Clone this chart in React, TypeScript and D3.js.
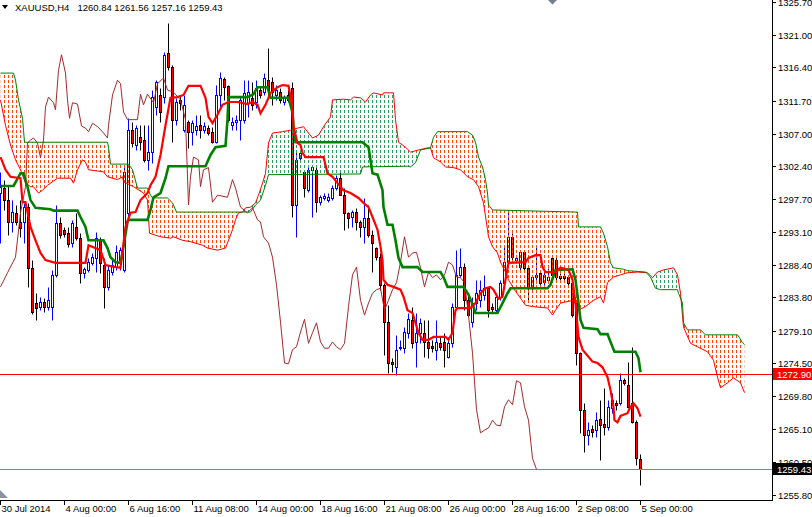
import React from "react";
import * as d3 from "d3";

const W = 812;
const H = 517;
const PLOT_R = 772;
const PLOT_B = 500;
const FONT = "'Liberation Sans', Arial, sans-serif";

const symbolTitle = "XAUUSD,H4";
const lastQuote = ["1260.84", "1261.56", "1257.16", "1259.43"];

const priceTicks = [
  1325.7, 1321.0, 1316.4, 1311.7, 1307.0, 1302.4, 1297.7, 1293.1, 1288.4, 1283.8,
  1279.1, 1274.5, 1269.8, 1265.1, 1260.5, 1255.8,
];

const timeLabels = [
  "30 Jul 2014", "4 Aug 00:00", "6 Aug 16:00", "11 Aug 08:00", "14 Aug 00:00", "18 Aug 16:00",
  "21 Aug 08:00", "26 Aug 00:00", "28 Aug 16:00", "2 Sep 08:00", "5 Sep 00:00",
];
const timeLabelBars = [0, 16, 32, 48, 64, 80, 96, 112, 128, 144, 160];

const alertLevel = 1272.9;
const bidLevel = 1259.43;

// [open, high, low, close] per H4 bar
const ohlc: number[][] = [
  [1298.6, 1301.6, 1291.5, 1299.5], [1299.3, 1300.5, 1296.2, 1297.6], [1297.6, 1299.7, 1292.7, 1294.5],
  [1294.5, 1297.6, 1293.1, 1295.9], [1295.8, 1296.9, 1294.1, 1294.5], [1294.5, 1297.6, 1292.4, 1293.6],
  [1294.5, 1297.2, 1291.5, 1296.6], [1296.6, 1297.2, 1285.3, 1288.0], [1288.0, 1289.1, 1281.5, 1281.7],
  [1283.0, 1284.4, 1280.6, 1282.3], [1282.5, 1283.9, 1282.0, 1283.2], [1283.2, 1283.7, 1281.7, 1282.5],
  [1282.5, 1285.3, 1282.0, 1283.4], [1282.5, 1287.7, 1280.6, 1287.0], [1287.0, 1296.9, 1286.7, 1294.4],
  [1294.4, 1295.2, 1292.2, 1292.7], [1293.4, 1293.8, 1292.4, 1292.8], [1292.9, 1293.8, 1291.0, 1291.4],
  [1291.5, 1294.8, 1291.0, 1294.4], [1293.8, 1295.8, 1291.9, 1292.2], [1292.2, 1292.9, 1285.9, 1287.3],
  [1287.3, 1288.1, 1286.6, 1287.8], [1287.7, 1289.4, 1287.4, 1288.8], [1288.7, 1290.1, 1288.4, 1289.5],
  [1289.4, 1293.1, 1287.4, 1292.2], [1291.9, 1292.4, 1287.3, 1288.7], [1288.4, 1289.4, 1282.3, 1285.3],
  [1285.3, 1288.4, 1284.9, 1287.7], [1287.4, 1289.1, 1287.0, 1288.4], [1288.1, 1291.2, 1287.7, 1290.2],
  [1289.1, 1291.0, 1287.7, 1290.5], [1287.7, 1302.6, 1287.4, 1301.6], [1295.8, 1309.2, 1294.8, 1307.5],
  [1307.5, 1308.7, 1305.1, 1305.7], [1305.4, 1308.2, 1304.7, 1307.8], [1306.5, 1308.2, 1304.7, 1305.8],
  [1306.1, 1308.2, 1303.0, 1303.3], [1303.3, 1308.2, 1301.9, 1304.4], [1304.4, 1313.2, 1302.9, 1312.2],
  [1310.8, 1314.6, 1309.7, 1314.3], [1312.5, 1313.5, 1308.7, 1310.1], [1312.2, 1318.6, 1311.4, 1318.2],
  [1318.5, 1322.7, 1316.0, 1316.5], [1316.5, 1316.8, 1305.8, 1309.0], [1309.0, 1312.1, 1308.2, 1311.5],
  [1311.8, 1312.5, 1310.4, 1311.4], [1307.5, 1312.5, 1307.3, 1311.1], [1308.7, 1309.0, 1305.0, 1307.3],
  [1307.3, 1309.0, 1305.4, 1308.5], [1307.5, 1309.7, 1306.8, 1308.1], [1308.2, 1309.7, 1306.4, 1307.5],
  [1307.5, 1308.7, 1307.1, 1308.1], [1307.8, 1308.2, 1306.8, 1307.1], [1307.3, 1308.0, 1305.7, 1305.8],
  [1305.8, 1313.9, 1305.7, 1312.5], [1312.5, 1315.8, 1310.8, 1314.9], [1314.8, 1315.1, 1311.8, 1313.6],
  [1313.8, 1313.9, 1308.7, 1309.0], [1308.2, 1309.4, 1307.5, 1308.7], [1308.7, 1309.7, 1307.5, 1309.0],
  [1309.0, 1312.2, 1306.1, 1311.8], [1309.0, 1314.6, 1308.5, 1312.8], [1311.4, 1314.6, 1309.4, 1312.9],
  [1312.1, 1314.3, 1310.4, 1311.1], [1311.5, 1314.6, 1310.7, 1313.5], [1313.2, 1313.6, 1312.1, 1312.5],
  [1312.9, 1315.6, 1312.5, 1314.9], [1314.6, 1319.2, 1312.2, 1313.2], [1314.3, 1315.1, 1311.1, 1312.9],
  [1312.5, 1313.9, 1311.8, 1313.2], [1312.9, 1313.5, 1311.4, 1311.8], [1311.5, 1312.5, 1311.1, 1312.1],
  [1312.5, 1313.2, 1311.5, 1311.8], [1313.5, 1314.3, 1295.2, 1296.9], [1296.9, 1304.4, 1292.4, 1303.3],
  [1303.6, 1304.7, 1303.3, 1304.3], [1301.6, 1301.9, 1298.0, 1299.3], [1299.0, 1302.6, 1298.8, 1301.9],
  [1301.9, 1302.6, 1295.2, 1302.3], [1301.9, 1302.3, 1295.9, 1297.3], [1297.3, 1298.3, 1296.9, 1298.0],
  [1297.9, 1298.6, 1297.6, 1298.2], [1297.6, 1298.6, 1297.3, 1298.0], [1297.9, 1299.7, 1297.6, 1299.3],
  [1299.3, 1301.2, 1299.0, 1300.7], [1300.7, 1301.9, 1298.3, 1298.3], [1298.3, 1299.3, 1293.4, 1295.8],
  [1295.8, 1295.9, 1293.6, 1295.1], [1295.2, 1296.2, 1293.8, 1295.9], [1295.9, 1296.5, 1293.4, 1294.5],
  [1294.5, 1294.8, 1292.4, 1293.8], [1293.8, 1297.9, 1291.5, 1295.1], [1295.1, 1296.9, 1292.4, 1292.7],
  [1292.7, 1293.4, 1287.4, 1291.5], [1290.8, 1291.0, 1289.1, 1289.5], [1289.5, 1290.1, 1284.9, 1285.6],
  [1285.6, 1285.9, 1275.6, 1280.3], [1280.3, 1282.7, 1273.1, 1274.5], [1274.7, 1275.2, 1273.2, 1274.4],
  [1273.9, 1278.5, 1272.8, 1276.4], [1276.6, 1277.8, 1276.4, 1276.8], [1276.6, 1279.6, 1275.9, 1278.9],
  [1278.8, 1281.6, 1278.1, 1280.7], [1280.6, 1282.5, 1276.6, 1277.3], [1277.5, 1281.6, 1273.9, 1278.8],
  [1278.8, 1280.9, 1277.3, 1280.2], [1278.8, 1280.6, 1275.4, 1277.5], [1277.5, 1280.6, 1275.2, 1276.6],
  [1276.9, 1277.8, 1276.1, 1276.6], [1276.4, 1280.6, 1274.9, 1277.5], [1277.3, 1278.2, 1276.4, 1276.8],
  [1277.5, 1278.8, 1273.9, 1276.4], [1275.4, 1278.2, 1275.2, 1277.3], [1277.3, 1283.0, 1276.8, 1282.5],
  [1282.5, 1290.5, 1282.0, 1287.0], [1287.0, 1290.8, 1286.7, 1288.1], [1288.1, 1288.7, 1282.0, 1283.4],
  [1283.4, 1284.4, 1281.0, 1281.3], [1280.3, 1283.9, 1279.6, 1283.0], [1283.0, 1286.3, 1282.0, 1284.4],
  [1283.4, 1286.3, 1282.5, 1284.9], [1284.2, 1287.0, 1283.4, 1285.1], [1285.1, 1285.3, 1281.0, 1282.0],
  [1282.5, 1283.0, 1281.7, 1282.2], [1282.0, 1284.4, 1281.6, 1283.9], [1283.9, 1286.3, 1283.4, 1285.9],
  [1285.9, 1291.0, 1285.3, 1288.8], [1288.8, 1296.2, 1288.1, 1292.4], [1292.4, 1292.9, 1289.1, 1289.5],
  [1289.1, 1289.8, 1288.7, 1289.4], [1288.1, 1290.5, 1287.7, 1290.2], [1290.2, 1290.5, 1287.7, 1288.0],
  [1288.0, 1288.1, 1283.2, 1285.3], [1285.1, 1287.0, 1284.9, 1286.7], [1286.7, 1291.0, 1285.9, 1287.0],
  [1287.3, 1287.7, 1285.6, 1285.9], [1286.0, 1287.4, 1285.6, 1287.0], [1286.3, 1288.0, 1285.9, 1286.7],
  [1289.4, 1289.5, 1286.7, 1287.0], [1289.1, 1289.5, 1286.3, 1286.7], [1286.8, 1287.3, 1286.3, 1286.6],
  [1286.8, 1287.3, 1286.0, 1286.6], [1286.7, 1287.0, 1285.6, 1285.9], [1285.9, 1286.3, 1281.0, 1281.3],
  [1283.0, 1283.4, 1274.2, 1275.9], [1275.9, 1276.1, 1264.6, 1267.9], [1267.9, 1268.8, 1261.9, 1264.3],
  [1264.3, 1266.1, 1262.9, 1265.0], [1265.2, 1265.7, 1264.0, 1264.7], [1265.0, 1267.6, 1264.0, 1266.4],
  [1266.6, 1269.3, 1260.8, 1265.7], [1265.9, 1271.0, 1264.3, 1265.4], [1265.4, 1269.3, 1265.0, 1268.3],
  [1268.1, 1270.3, 1267.4, 1269.3], [1268.8, 1269.3, 1267.9, 1268.6], [1268.8, 1273.1, 1268.6, 1272.1],
  [1272.1, 1272.4, 1271.4, 1271.7], [1271.4, 1274.7, 1268.1, 1268.3], [1268.8, 1276.8, 1266.0, 1266.1],
  [1266.1, 1266.4, 1260.1, 1261.0], [1260.84, 1261.56, 1257.16, 1259.43],
];

// [bar, price] points
const tenkan: number[][] = [
  [0, 1303.7], [1.25, 1301.9], [2.5, 1300.9], [5, 1300.7], [5.5, 1297.3], [6.25, 1297.3], [7.5, 1293.8],
  [8.75, 1291.9], [10, 1290.1], [11.25, 1289.1], [13.75, 1288.7], [21.25, 1288.7], [22, 1291.2],
  [25, 1290.5], [26.25, 1288.4], [28.75, 1288.1], [30, 1288.0], [31.25, 1293.8], [32.5, 1295.8],
  [33.75, 1295.9], [35, 1297.6], [36.75, 1298.6], [37.5, 1299.7], [38.75, 1300.9], [40, 1304.0],
  [41.25, 1308.2], [42.5, 1312.1], [44.25, 1312.2], [45.75, 1312.5], [47, 1313.8], [50, 1313.8],
  [51.25, 1312.1], [52, 1309.4], [53, 1308.5], [54.25, 1309.7], [55.5, 1311.1], [57, 1311.5],
  [59.25, 1311.5], [61.75, 1311.2], [63, 1311.5], [64.25, 1311.1], [65, 1309.9], [66.25, 1311.1],
  [67.5, 1312.8], [69.25, 1313.6], [70.5, 1313.9], [72, 1313.8], [73, 1310.8], [73.25, 1308.0],
  [74.25, 1305.7], [75, 1305.4], [75.5, 1304.3], [76.25, 1303.7], [80.75, 1303.7], [81.75, 1301.4],
  [83, 1300.9], [84.25, 1300.0], [85.75, 1299.0], [87.5, 1298.6], [89.5, 1297.9], [90.75, 1297.2],
  [92, 1296.6], [93, 1295.2], [94.25, 1293.4], [95, 1291.0], [95.5, 1289.1], [95.75, 1286.3],
  [96.75, 1285.6], [98.25, 1285.3], [100, 1284.9], [100.75, 1283.9], [101.75, 1282.0], [103, 1281.6],
  [103.75, 1280.2], [104.5, 1278.8], [105.5, 1277.8], [107, 1277.8], [108.25, 1278.2], [111.25, 1278.2],
  [112, 1277.8], [113, 1278.8], [113.75, 1282.0], [114.25, 1282.3], [117.5, 1282.3], [118.75, 1283.0],
  [120, 1284.4], [121.25, 1285.1], [122.5, 1285.3], [123.25, 1284.9], [124.5, 1283.6], [125.5, 1283.9],
  [126.25, 1286.3], [127, 1288.7], [131.25, 1288.8], [132, 1289.4], [133.75, 1289.8], [135, 1289.8],
  [135.5, 1288.1], [136.25, 1287.4], [138.75, 1287.4], [140, 1288.0], [142, 1287.7], [143, 1286.3],
  [143.75, 1283.0], [144.5, 1278.2], [145.5, 1276.4], [146.25, 1275.9], [148, 1274.7], [149.25, 1274.5],
  [150.5, 1273.9], [151.75, 1272.5], [152.5, 1270.7], [153.25, 1268.3], [153.5, 1266.4], [154.25, 1266.1],
  [155, 1267.0], [156.75, 1267.4], [157.5, 1268.3], [158.25, 1268.8], [159.25, 1268.1], [160, 1266.9],
];

const kijun: number[][] = [
  [0, 1299.6], [3.25, 1299.6], [5, 1301.4], [5.75, 1301.4], [6.75, 1299.5], [7.5, 1297.6], [8.75, 1296.5],
  [12.5, 1296.3], [13.25, 1296.1], [19.25, 1296.1], [20, 1295.2], [21.25, 1293.8], [22, 1291.9],
  [25.75, 1291.9], [26.75, 1290.8], [27.5, 1289.5], [28.75, 1288.8], [30, 1288.7], [30.75, 1291.0],
  [31.75, 1294.5], [32, 1294.8], [36.75, 1294.8], [37.5, 1296.2], [38.25, 1298.0], [40, 1298.6],
  [41.25, 1300.7], [42, 1302.4], [51.25, 1302.4], [52.5, 1304.0], [53.75, 1305.1], [56.25, 1305.3],
  [56.75, 1309.0], [57, 1312.2], [61.75, 1312.2], [63.25, 1312.6], [64.25, 1313.6], [66.75, 1313.6],
  [67.5, 1312.1], [72, 1312.1], [73, 1310.0], [73.25, 1308.0], [73.75, 1305.8], [90.5, 1305.8],
  [92, 1305.1], [93, 1301.4], [94.25, 1301.2], [95.5, 1299.0], [95.75, 1296.6], [96.75, 1294.1],
  [98, 1294.1], [98.75, 1291.9], [99.5, 1289.4], [100.5, 1288.1], [104.25, 1288.1], [105.5, 1287.4],
  [110, 1287.4], [110.75, 1286.7], [111.75, 1285.3], [115.75, 1285.3], [117, 1284.2], [118.25, 1282.5],
  [118.75, 1281.6], [124.25, 1281.6], [125.5, 1283.0], [126.75, 1284.4], [127.5, 1285.1], [136.75, 1285.1],
  [137.5, 1285.6], [138.75, 1287.7], [143, 1287.8], [143.75, 1286.3], [144.5, 1283.0], [145, 1280.6],
  [145.75, 1279.5], [149.25, 1279.3], [150, 1278.6], [151.75, 1278.6], [152.5, 1277.5], [153.5, 1276.1],
  [158.75, 1276.1], [159.5, 1275.2], [160, 1273.2],
];

const chikou: number[][] = [
  [0, 1285.3], [1.75, 1287.3], [3.75, 1289.5], [5, 1295.8], [6.25, 1299.5], [6.75, 1305.7], [7.5, 1306.1],
  [8.25, 1306.4], [9.25, 1305.7], [10, 1303.6], [10.75, 1306.1], [11.25, 1310.8], [12, 1312.2],
  [13.25, 1311.4], [13.75, 1310.4], [14.5, 1316.0], [15.25, 1318.2], [16.25, 1315.6], [16.75, 1311.8],
  [17.25, 1309.2], [18, 1311.4], [19.25, 1311.2], [20.25, 1308.1], [21.25, 1307.8], [22, 1307.3],
  [23, 1308.5], [24.25, 1308.0], [25.5, 1307.3], [26.75, 1306.4], [27, 1308.2], [28, 1312.5],
  [29.25, 1314.6], [30, 1314.1], [30.75, 1310.1], [31.75, 1309.0], [34.25, 1309.0], [35, 1312.6],
  [35.75, 1311.1], [36.75, 1312.6], [38.25, 1311.4], [39.25, 1314.1], [40.75, 1314.9], [41.75, 1313.2],
  [43.25, 1312.9], [45, 1311.8], [46.25, 1309.0], [47, 1296.9], [47.5, 1300.9], [48.25, 1303.7],
  [49.5, 1303.3], [50, 1299.5], [50.75, 1301.9], [52, 1302.2], [53, 1297.3], [54.25, 1298.3],
  [56.75, 1298.0], [58, 1300.5], [58.75, 1299.3], [60, 1296.6], [61.75, 1295.8], [63, 1296.5],
  [64.25, 1294.8], [65, 1294.5], [65.75, 1292.4], [67, 1291.5], [68, 1289.5], [69, 1285.6], [70, 1280.3],
  [71, 1274.5], [72, 1274.4], [73, 1276.4], [74, 1276.8], [75, 1278.9], [76, 1280.7], [77, 1277.3],
  [78, 1278.8], [79, 1280.2], [80, 1277.5], [81, 1276.6], [82, 1276.6], [83, 1277.5], [84, 1276.8],
  [85, 1276.4], [86, 1277.3], [87, 1282.5], [88, 1287.0], [89, 1288.1], [90, 1283.4], [91, 1281.3],
  [92, 1283.0], [93, 1284.4], [94, 1284.9], [95, 1285.1], [96, 1282.0], [97, 1283.4], [98, 1284.9],
  [99, 1285.9], [100, 1288.8], [101, 1292.4], [102, 1289.5], [103, 1290.1], [104, 1290.2], [105, 1288.0],
  [106, 1285.3], [107, 1287.4], [108, 1286.6], [109, 1287.0], [110, 1286.3], [111, 1287.0], [112, 1288.8],
  [113, 1288.4], [114, 1286.7], [115, 1286.6], [116, 1285.9], [117, 1281.3], [118, 1275.9], [119, 1267.9],
  [120, 1264.6], [121, 1265.0], [122, 1265.3], [123, 1266.4], [124, 1265.7], [125, 1265.6], [126, 1268.3],
  [127, 1269.3], [128, 1268.6], [129, 1272.0], [130, 1271.7], [131, 1268.3], [132, 1266.4], [133, 1261.0],
  [134, 1259.43],
];

const spanA: number[][] = [
  [0, 1311.8], [1.25, 1308.2], [2.5, 1305.4], [3.75, 1303.3], [5, 1301.9], [6.25, 1300.0], [7.5, 1299.5],
  [8.25, 1299.5], [9.5, 1298.6], [10.5, 1299.0], [11.75, 1299.7], [13, 1300.2], [14.25, 1300.7],
  [17.5, 1300.7], [18.25, 1300.0], [19.25, 1301.9], [20.5, 1303.3], [21.25, 1303.0], [22, 1301.9],
  [25.75, 1301.6], [26.75, 1300.9], [29.25, 1300.5], [30.5, 1300.9], [30.75, 1300.2], [33.25, 1299.5],
  [35.75, 1298.6], [36.75, 1297.6], [37.25, 1292.9], [40, 1292.4], [42.5, 1292.2], [43.25, 1292.4],
  [45.5, 1291.9], [47.5, 1291.7], [50.5, 1291.2], [51.75, 1290.8], [54.25, 1290.5], [56.25, 1290.8],
  [57, 1291.9], [58, 1293.4], [58.75, 1294.8], [59.5, 1295.8], [60.5, 1295.9], [61.25, 1296.5],
  [62.5, 1296.6], [63.75, 1297.2], [64.5, 1298.3], [65.5, 1300.0], [66.25, 1301.4], [67, 1305.7],
  [68, 1307.1], [70.5, 1307.3], [72.5, 1307.5], [74.25, 1307.8], [75.75, 1308.0], [77, 1307.1],
  [78, 1306.4], [79.5, 1306.8], [80.75, 1308.0], [82.5, 1309.4], [83, 1311.8], [85.75, 1311.9],
  [87.5, 1311.8], [88.25, 1312.2], [90, 1312.1], [91.25, 1311.5], [92.5, 1312.5], [93.25, 1312.8],
  [95.5, 1312.5], [95.75, 1312.8], [98.25, 1312.8], [98.75, 1309.0], [99.5, 1305.8], [101.25, 1305.1],
  [102.5, 1304.4], [104.5, 1304.7], [106.75, 1305.0], [107.5, 1305.0], [108.25, 1303.6], [110, 1303.0],
  [111.25, 1302.3], [113.25, 1302.2], [115, 1301.9], [116.75, 1300.9], [118.25, 1300.5], [119.5, 1299.5],
  [120.75, 1297.2], [121.75, 1293.4], [122, 1292.4], [123, 1291.0], [124.25, 1290.1], [125, 1288.8],
  [126.25, 1287.4], [127, 1286.3], [128.25, 1285.1], [130, 1283.7], [131.25, 1282.7], [133, 1282.5],
  [136.75, 1282.3], [138, 1281.3], [138.75, 1282.0], [140, 1283.0], [143.25, 1283.4], [144.5, 1282.0],
  [146.25, 1282.5], [148.25, 1283.4], [150, 1283.9], [150.75, 1283.0], [151.25, 1284.4], [151.75, 1285.9],
  [153.25, 1286.7], [155, 1287.0], [156.75, 1287.3], [159.25, 1287.4], [161.75, 1287.3], [163, 1286.6],
  [164.25, 1287.4], [165.75, 1287.7], [168.25, 1288.0], [169.25, 1287.0], [170, 1284.4], [170.75, 1279.6],
  [172.5, 1277.3], [174.25, 1276.8], [176.75, 1276.1], [178.25, 1274.9], [179.25, 1272.5], [180, 1271.0],
  [181.75, 1271.7], [183.25, 1272.4], [185, 1271.7], [186, 1270.3],
];

const spanB: number[][] = [
  [0, 1315.6], [3.25, 1315.6], [3.75, 1314.6], [4.5, 1311.8], [5.5, 1309.2], [5.75, 1307.5], [6, 1305.8],
  [26.75, 1305.8], [27, 1305.1], [27.5, 1302.7], [32, 1302.7], [33, 1301.9], [34.25, 1299.3],
  [36.75, 1299.3], [37.5, 1298.3], [38, 1297.9], [41.75, 1297.9], [43, 1297.2], [44, 1295.9],
  [62.5, 1295.9], [63.75, 1296.9], [65, 1297.6], [66.25, 1299.7], [67, 1301.2], [90, 1301.3],
  [90.5, 1302.3], [101.75, 1302.4], [102.5, 1302.3], [103.75, 1302.9], [104.5, 1304.0], [105, 1304.7],
  [107.5, 1305.0], [108.25, 1306.5], [109.25, 1307.3], [116.75, 1307.3], [118, 1306.8], [118.75, 1305.8],
  [119.5, 1303.7], [120.5, 1302.3], [121.25, 1300.5], [121.75, 1298.6], [122, 1296.9], [123, 1296.2],
  [144.25, 1295.9], [144.5, 1293.8], [150, 1293.8], [150.75, 1292.9], [151.75, 1291.0], [152.5, 1288.7],
  [153.25, 1288.0], [155.75, 1287.8], [156.75, 1287.6], [161.25, 1287.4], [162.5, 1286.7], [163.75, 1285.1],
  [165, 1284.9], [169.25, 1284.9], [169.5, 1284.4], [170.5, 1283.0], [170.75, 1280.2], [171.75, 1279.2],
  [175, 1279.2], [176.25, 1278.5], [184.25, 1278.5], [185.5, 1277.4], [186, 1277.1],
];

export default function App() {
  const x = d3.scaleLinear().domain([0, 1]).range([0.5, 4.5]);
  const y = d3.scaleLinear().domain([1255.09, 1325.96]).range([PLOT_B, 0]);
  const line = d3.line<number[]>().x((d) => x(d[0])).y((d) => y(d[1]));
  const py = (p: number) => Math.round(y(p)) + 0.5;

  const closeDown = (pts: number[][]) =>
    `${line(pts)}L${x(pts[pts.length - 1][0])},${PLOT_B + 60}L${x(pts[0][0])},${PLOT_B + 60}Z`;
  const closeUp = (pts: number[][]) =>
    `${line(pts)}L${x(pts[pts.length - 1][0])},-60L${x(pts[0][0])},-60Z`;

  const candles = ohlc.map((d, i) => {
    const [o, h, l, c] = d;
    const bull = c >= o;
    const cx = Math.round(x(i) - 0.5) + 0.5;
    const top = Math.round(y(Math.max(o, c)));
    const bot = Math.round(y(Math.min(o, c)));
    const wickColor = bull ? "#0000ff" : "#000000";
    return (
      <g key={i}>
        <line x1={cx} x2={cx} y1={py(h)} y2={py(l)} stroke={wickColor} strokeWidth={1} />
        {bot - top >= 1 ? (
          <rect x={cx - 1} y={top + 0.5} width={2} height={bot - top} fill={bull ? "#ffffff" : "#ff0000"} stroke={wickColor} strokeWidth={1} />
        ) : (
          <line x1={cx - 1.5} x2={cx + 1.5} y1={top + 0.5} y2={top + 0.5} stroke={wickColor} strokeWidth={1} />
        )}
      </g>
    );
  });

  const alertY = py(alertLevel);
  const bidY = py(bidLevel);

  return (
    <svg width={W} height={H} style={{ position: "absolute", left: 0, top: 0, background: "#fff" }} fontFamily={FONT}>
      <defs>
        <pattern id="dotO" patternUnits="userSpaceOnUse" width={4} height={5}>
          <rect x={0} y={0} width={1} height={3} fill="#ff4500" />
        </pattern>
        <pattern id="dotG" patternUnits="userSpaceOnUse" width={4} height={5}>
          <rect x={0} y={0} width={1} height={3} fill="#2e9e5b" />
        </pattern>
        <clipPath id="plot">
          <rect x={0} y={0} width={PLOT_R} height={PLOT_B} />
        </clipPath>
        <clipPath id="aboveA">
          <path d={closeUp(spanA)} />
        </clipPath>
        <clipPath id="aboveB">
          <path d={closeUp(spanB)} />
        </clipPath>
      </defs>
      <rect x={0} y={0} width={W} height={H} fill="#ffffff" />
      <g clipPath="url(#plot)">
        {candles}
        <g clipPath="url(#aboveA)">
          <path d={closeDown(spanB)} fill="url(#dotO)" />
        </g>
        <g clipPath="url(#aboveB)">
          <path d={closeDown(spanA)} fill="url(#dotG)" />
        </g>
        <path d={line(spanA) || ""} fill="none" stroke="#ff0000" strokeWidth={1} />
        <path d={line(spanB) || ""} fill="none" stroke="#008000" strokeWidth={1} />
        <line x1={0} x2={PLOT_R} y1={alertY} y2={alertY} stroke="#ff0000" strokeWidth={1} />
        <line x1={0} x2={PLOT_R} y1={bidY} y2={bidY} stroke="#778899" strokeWidth={1} />
        <path d={line(chikou) || ""} fill="none" stroke="#a52a2a" strokeWidth={1} />
        <path d={line(kijun) || ""} fill="none" stroke="#008000" strokeWidth={2.6} />
        <path d={line(tenkan) || ""} fill="none" stroke="#ff0000" strokeWidth={2.2} />
      </g>

      {/* header */}
      <path d="M2,5 L8,5 L5,9 Z" fill="#000" />
      <text x={15} y={10.5} fontSize={9.5} fill="#000">
        {symbolTitle}
        <tspan dx={8}>{lastQuote.join(" ")}</tspan>
      </text>

      {/* shift markers */}
      <path d="M548,0 L557,0 L552.5,4.5 Z" fill="#708090" />
      <path d="M0,490 L8,498 L0,498 Z" fill="#8a95a3" />

      {/* axes */}
      <line x1={PLOT_R + 0.5} x2={PLOT_R + 0.5} y1={0} y2={PLOT_B + 1} stroke="#000" strokeWidth={1} />
      <line x1={0} x2={PLOT_R + 1} y1={PLOT_B + 0.5} y2={PLOT_B + 0.5} stroke="#000" strokeWidth={1} />
      {priceTicks.map((t) => {
        const ty = py(t);
        return (
          <g key={t}>
            <line x1={PLOT_R} x2={PLOT_R + 4} y1={ty} y2={ty} stroke="#000" />
            <text x={PLOT_R + 6} y={ty + 3.5} fontSize={9.5} fill="#000">
              {t.toFixed(2)}
            </text>
          </g>
        );
      })}
      {timeLabels.map((lab, k) => {
        const tx = Math.round(x(timeLabelBars[k]) - 0.5) + 0.5;
        return (
          <g key={lab}>
            <line x1={tx} x2={tx} y1={PLOT_B} y2={PLOT_B + 5} stroke="#000" />
            <text x={tx + 1} y={512} fontSize={9.5} fill="#000">
              {lab}
            </text>
          </g>
        );
      })}

      {/* price level boxes */}
      <rect x={PLOT_R + 1} y={alertY - 6.5} width={W - PLOT_R - 1} height={12} fill="#ff0000" />
      <text x={PLOT_R + 5} y={alertY + 3.5} fontSize={9.5} fill="#fff">
        {alertLevel.toFixed(2)}
      </text>
      <rect x={PLOT_R + 1} y={bidY - 6.5} width={W - PLOT_R - 1} height={12} fill="#000" />
      <text x={PLOT_R + 5} y={bidY + 3.5} fontSize={9.5} fill="#fff">
        {bidLevel.toFixed(2)}
      </text>
    </svg>
  );
}
